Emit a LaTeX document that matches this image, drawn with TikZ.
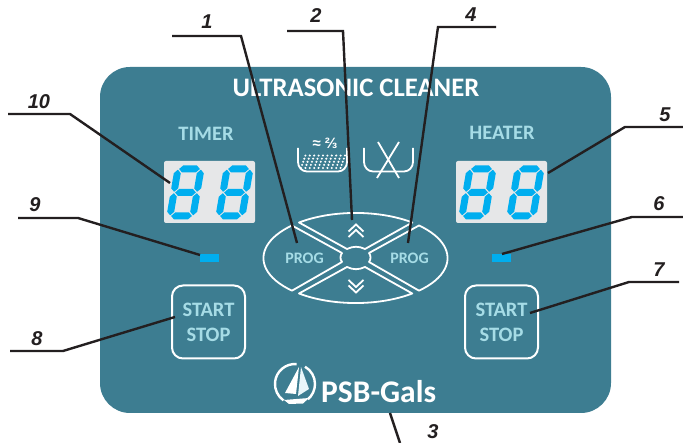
\documentclass[tikz,border=0pt]{standalone}
\usepackage{fontspec}
\setmainfont{Carlito}
\newfontfamily\numfont{Liberation Sans}
\usetikzlibrary{positioning,calc}
\definecolor{panelcol}{HTML}{3D7D91}
\definecolor{ledcol}{HTML}{00AEEF}
\definecolor{screencol}{HTML}{E6E7E8}
\definecolor{labelcol}{HTML}{A6DCE6}
\definecolor{leadcol}{HTML}{231F20}
\newcommand{\hseg}[3]{\fill[ledcol] (#1,#3) -- ++(3.5,3.5) -- (#2-3.5,#3+3.5) -- (#2,#3) -- (#2-3.5,#3-3.5) -- (#1+3.5,#3-3.5) -- cycle;}
\newcommand{\vseg}[3]{\fill[ledcol] (#1,#2) -- ++(3.5,3.5) -- (#1+3.5,#3-3.5) -- (#1,#3) -- (#1-3.5,#3-3.5) -- (#1-3.5,#2+3.5) -- cycle;}
\tikzset{
  digit/.pic={
    \begin{scope}[xslant=0.17]
      \hseg{2.6}{23.4}{0}
      \hseg{2.6}{23.4}{23.5}
      \hseg{2.6}{23.4}{47}
      \vseg{1.5}{0.7}{22.8}
      \vseg{1.5}{24.2}{46.3}
      \vseg{24.5}{0.7}{22.8}
      \vseg{24.5}{24.2}{46.3}
    \end{scope}
  }
}
\begin{document}
\begin{tikzpicture}[x=1pt,y=1pt,
leader/.style={draw=leadcol,line width=2.4pt},
num/.style={font=\numfont\bfseries\itshape\fontsize{20}{20}\selectfont,text=leadcol,inner sep=0pt},
whiteline/.style={draw=white,line width=1.8pt},
caption/.style={font=\bfseries\fontsize{20.5}{20.5}\selectfont,text=labelcol,inner sep=0pt},
progtext/.style={font=\bfseries\fontsize{16}{16}\selectfont,text=labelcol,inner sep=0pt},
btn/.style={draw=white,line width=2pt,rounded corners=11pt,minimum width=73pt,minimum height=73pt,align=center,
  font=\bfseries\fontsize{20.5}{25}\selectfont,text=labelcol,inner sep=0pt},
led/.style={fill=ledcol,minimum width=19pt,minimum height=8pt,inner sep=0pt},
screen/.style={fill=screencol,rounded corners=2pt,minimum width=91pt,minimum height=62pt,inner sep=0pt}
]
\useasboundingbox (0,0) rectangle (683,443);
% panel
\node (panel) [fill=panelcol,rounded corners=30pt,minimum width=511pt,minimum height=346pt,inner sep=0pt] at (355.5,203) {};
\node (title) [font=\bfseries\fontsize{26.7}{26.7}\selectfont,text=white,inner sep=0pt] at (356,355) {ULTRASONIC CLEANER};
\node (timer) [caption] at (206,309) {TIMER};
\node (heater) [caption] at (502,310) {HEATER};
% displays
\node (scrL) [screen] at (209.5,251) {};
\node (scrR) [screen] at (501.5,251) {};
\foreach \x in {168.5,217.5,460.5,508.5}
  \pic at (\x,227) {digit};
\node (ledL) [led] at (209.5,185) {};
\node (ledR) [led] at (501.5,185) {};
% buttons
\node (btnL) [btn] at (208.5,121) {START\\STOP};
\node (btnR) [btn] at (501.5,121) {START\\STOP};
% control pad
\draw[whiteline,line join=round] (299,220.5) arc [start angle=128,end angle=52,x radius=92,y radius=45]
  -- (365,194) to[bend right=25] (347,194) -- cycle;
\draw[whiteline,line join=round] (299,149.5) arc [start angle=232,end angle=308,x radius=92,y radius=45]
  -- (365,176) to[bend left=25] (347,176) -- cycle;
\draw[whiteline,line join=round] (292,217.5) arc [start angle=133.6,end angle=226.4,x radius=92,y radius=45]
  -- (342,181) to[bend left=35] (342,190) -- cycle;
\draw[whiteline,line join=round] (419,217.5) arc [start angle=46.4,end angle=-46.4,x radius=92,y radius=45]
  -- (369,181) to[bend right=35] (369,190) -- cycle;
\node (progL) [progtext] at (304.5,185) {PROG};
\node (progR) [progtext] at (409.5,185) {PROG};
\foreach \y in {0,5.5}{
  \draw[whiteline] (348.5,206+\y) -- (356,213+\y) -- (363.5,206+\y);
  \draw[whiteline] (348.5,163-\y) -- (356,156-\y) -- (363.5,163-\y);
}
% bath icons
\foreach \x in {0,1,...,9}
  \foreach \y in {0,1,2,3,4}
    \fill[white] (301+\x*4.4+\y*1.1,275+\y*3.1) circle (1.15pt);
\draw[whiteline,line width=1.8pt] (298,295) -- (298,281) to[out=-90,in=180] (307,271.5) -- (338,271.5) to[out=0,in=-90] (347,281) -- (347,295);
\draw[whiteline,line width=1.8pt] (364,295) -- (364,281) to[out=-90,in=180] (373,271.5) -- (404,271.5) to[out=0,in=-90] (413,281) -- (413,295);
\draw[whiteline,line width=1.8pt] (378,301) -- (399,265);
\draw[whiteline,line width=1.8pt] (399,301) -- (377,265);
\node (level) [font=\numfont\bfseries\fontsize{15}{15}\selectfont,text=white,inner sep=0pt] at (325,300) {≈ ⅔};
% logo
\draw[white,line width=2.4pt] (296.7,78.9) arc [start angle=85,end angle=235,radius=20];
\draw[white,line width=2.4pt] (305,76.3) arc [start angle=60,end angle=-50,radius=20];
\fill[white] (299,76) -- (285,50) -- (296,49) -- cycle;
\fill[white!75!labelcol] (301,76) -- (298,47) -- (309,54) -- cycle;
\fill[white] (284,43) -- (309,45) -- (303,39.5) -- (289,39) -- cycle;
\node (brand) [anchor=west,font=\bfseries\fontsize{31.5}{31.5}\selectfont,text=white,inner sep=0pt] at (321,51) {PSB-Gals};
% leader lines
\foreach \name/\ax/\ay/\bx/\by/\tx/\ty in {
  1/172/407/241/407/297/200,
  2/287/412/343/412/352/223,
  4/496/416/438/416/408/200,
  10/8/329/70/329/170/260,
  9/18/225/78/225/200/188,
  5/683/316/625/316/548/270,
  6/683/226/632/226/502/189,
  7/679/161/629/161/530/130,
  8/10/92/63/92/175/126}
{
  \coordinate (from\name) at (\ax,\ay);
  \coordinate (bend\name) at (\bx,\by);
  \coordinate (tip\name) at (\tx,\ty);
  \draw[leader] (from\name) -- (bend\name) -- (tip\name);
}
\coordinate (from3) at (390,30);
\coordinate (tip3) at (400,0);
\draw[leader] (from3) -- (tip3);
% numbers
\node (num1) [num] at (207,421) {1};
\node (num2) [num] at (316,427) {2};
\node (num3) [num] at (433,11) {3};
\node (num4) [num] at (471,428) {4};
\node (num5) [num] at (665,328) {5};
\node (num6) [num] at (659,239) {6};
\node (num7) [num] at (659,173) {7};
\node (num8) [num] at (37,104) {8};
\node (num9) [num] at (35,238) {9};
\node (num10) [num] at (39,341) {10};
\end{tikzpicture}
\end{document}
